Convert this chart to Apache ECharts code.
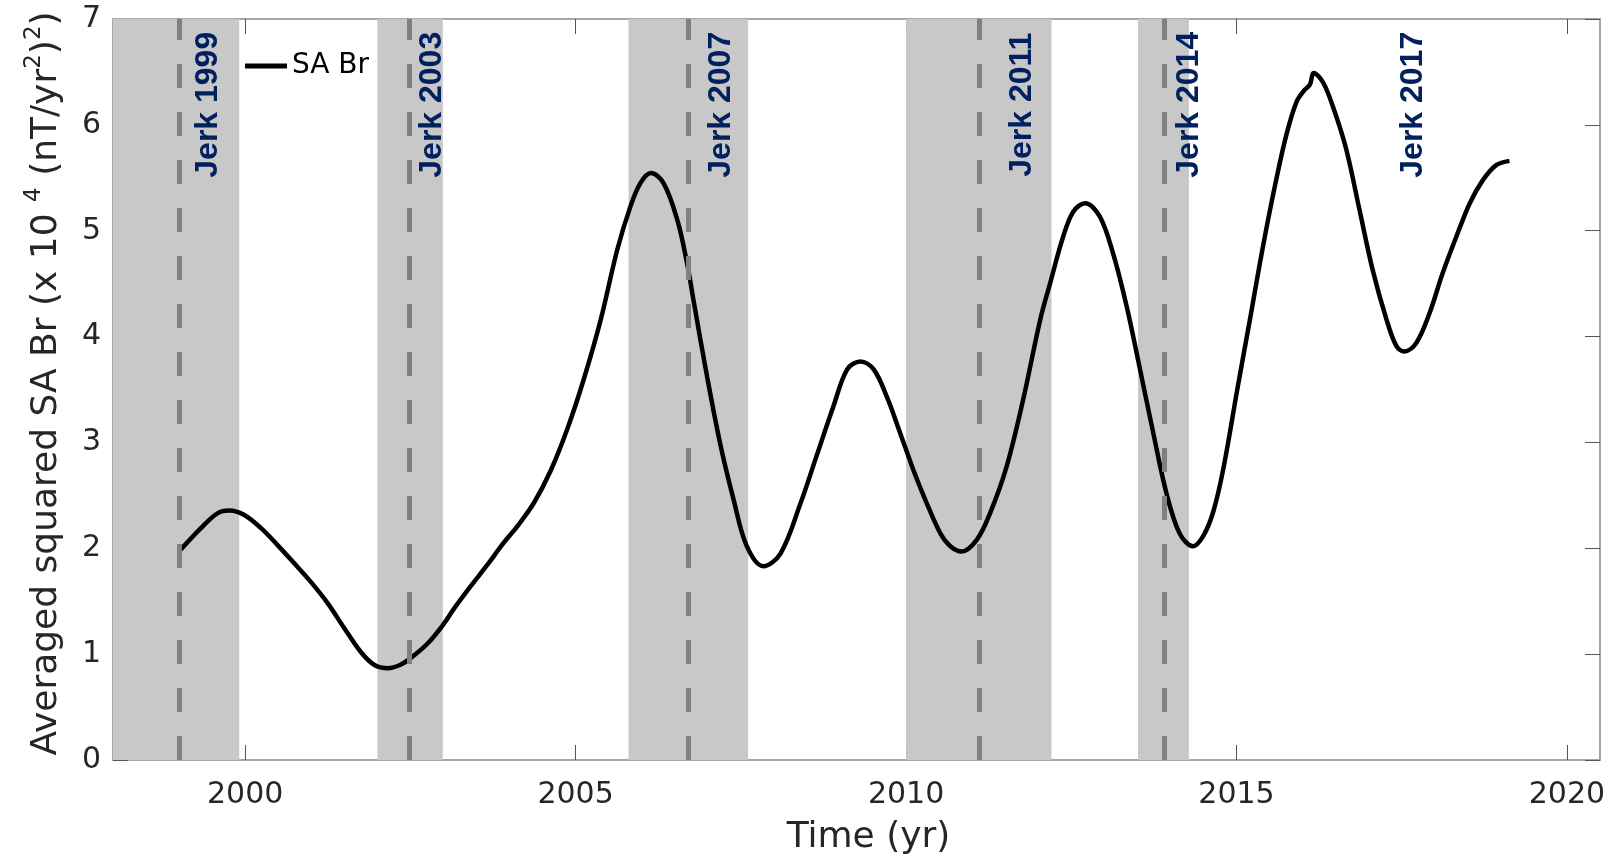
<!DOCTYPE html>
<html><head><meta charset="utf-8">
<script src="https://cdn.jsdelivr.net/npm/echarts@6/dist/echarts.min.js"></script>
<style>html,body{margin:0;padding:0;background:#fff}#c{width:1624px;height:865px}</style>
</head><body><div id="c"></div>
<script>
// ---- data ----
const years = [1999.0, 1999.33, 1999.58, 1999.76, 1999.98, 2000.24, 2000.49, 2000.74, 2000.99, 2001.25,
  2001.50, 2001.75, 2001.95, 2002.16, 2002.35, 2002.5, 2002.76, 2003.01, 2003.16, 2003.41,
  2003.66, 2003.91, 2004.12, 2004.37, 2004.62, 2004.87, 2005.12, 2005.38, 2005.63, 2005.83,
  2005.98, 2006.14, 2006.33, 2006.54, 2006.69, 2006.79, 2006.99, 2007.19, 2007.39, 2007.59,
  2007.84, 2008.10, 2008.40, 2008.65, 2008.90, 2009.11, 2009.31, 2009.51, 2009.71, 2009.91,
  2010.11, 2010.31, 2010.52, 2010.67, 2010.84, 2011.07, 2011.27, 2011.52, 2011.77, 2012.03,
  2012.18, 2012.38, 2012.53, 2012.71, 2012.93, 2013.13, 2013.34, 2013.54, 2013.74, 2013.94,
  2014.14, 2014.34, 2014.5, 2014.65, 2014.8, 2015.02, 2015.20, 2015.40, 2015.60, 2015.76,
  2015.91, 2016.03, 2016.11, 2016.17, 2016.31, 2016.46, 2016.66, 2016.86, 2017.06, 2017.27,
  2017.42, 2017.54, 2017.72, 2017.92, 2018.12, 2018.33, 2018.53, 2018.73, 2018.93, 2019.13];
const saBr = [1.97, 2.19, 2.33, 2.356, 2.316, 2.19, 2.03, 1.86, 1.685, 1.48,
  1.245, 1.02, 0.90, 0.867, 0.90, 0.96, 1.10, 1.29, 1.43, 1.64,
  1.84, 2.05, 2.21, 2.43, 2.73, 3.12, 3.59, 4.16, 4.82, 5.23,
  5.45, 5.545, 5.45, 5.10, 4.68, 4.32, 3.62, 2.98, 2.46, 2.02,
  1.83, 1.95, 2.42, 2.88, 3.34, 3.69, 3.765, 3.69, 3.43, 3.09,
  2.74, 2.43, 2.14, 2.02, 1.97, 2.08, 2.33, 2.77, 3.40, 4.16,
  4.505, 4.95, 5.18, 5.26, 5.135, 4.79, 4.28, 3.69, 3.09, 2.52,
  2.14, 2.02, 2.12, 2.35, 2.75, 3.53, 4.15, 4.85, 5.48, 5.92,
  6.22, 6.33, 6.38, 6.49, 6.40, 6.17, 5.77, 5.20, 4.63, 4.16,
  3.91, 3.86, 3.94, 4.22, 4.60, 4.95, 5.26, 5.48, 5.62, 5.66];
const xTicks = [2000, 2005, 2010, 2015, 2020];
const bandStart = [1998.0, 2002.0, 2005.8, 2010.0, 2013.51];
const bandEnd   = [1999.91, 2002.99, 2007.61, 2012.2, 2014.28];
const jerkDash  = [1999.0, 2002.49, 2006.7, 2011.1, 2013.9];
const jerkNames = ['Jerk 1999', 'Jerk 2003', 'Jerk 2007', 'Jerk 2011', 'Jerk 2014', 'Jerk 2017'];
const jerkLabelYear = [1999.44, 2002.83, 2007.2, 2011.76, 2014.28, 2017.67];
const jerkLabelLevel = 6.19;
const seriesName = 'SA Br';

// ---- chart ----
const FONT = 'DejaVu Sans';
const axisLineStyle = {color: '#a6a6a6', width: 2};
const tickStyle = {color: '#555555', width: 1};
const chart = echarts.init(document.getElementById('c'), null, {renderer: 'canvas'});
chart.setOption({
  animation: false,
  backgroundColor: '#ffffff',
  textStyle: {fontFamily: FONT},
  grid: {left: 113, right: 24, top: 19, bottom: 105, containLabel: false},
  legend: {
    data: [seriesName], left: 240, top: 47, icon: 'rect', itemWidth: 42, itemHeight: 5,
    textStyle: {fontSize: 28, color: '#000', fontFamily: FONT}, selectedMode: false
  },
  xAxis: [{
    type: 'value', min: 1998, max: 2020.5, position: 'bottom',
    axisLine: {show: true, onZero: false, lineStyle: axisLineStyle},
    axisTick: {show: true, inside: true, length: 15, customValues: xTicks, lineStyle: tickStyle},
    axisLabel: {customValues: xTicks, formatter: v => String(v), fontSize: 30, color: '#262626', margin: 20, fontFamily: FONT},
    splitLine: {show: false},
    name: 'Time (yr)', nameLocation: 'middle', nameGap: 60,
    nameTextStyle: {fontSize: 36, color: '#262626', fontFamily: FONT, padding: [0, 0, 0, 24]}
  }, {
    type: 'value', min: 1998, max: 2020.5, position: 'top',
    axisLine: {show: true, onZero: false, lineStyle: axisLineStyle},
    axisTick: {show: true, inside: true, length: 15, customValues: xTicks, lineStyle: tickStyle},
    axisLabel: {show: false}, splitLine: {show: false}
  }],
  yAxis: [{
    type: 'value', min: 0, max: 7, interval: 1, position: 'left',
    axisLine: {show: true, onZero: false, lineStyle: axisLineStyle},
    axisTick: {show: true, inside: true, length: 15, lineStyle: tickStyle},
    axisLabel: {fontSize: 30, color: '#262626', margin: 12, fontFamily: FONT},
    splitLine: {show: false},
    name: 'Averaged squared SA Br (x 10 {s|4} (nT/yr{s|2}){s|2})',
    nameLocation: 'middle', nameGap: 42,
    nameTextStyle: {
      fontSize: 36, color: '#262626', fontFamily: FONT, lineHeight: 48, padding: [0, 0, 0, 12],
      rich: {s: {fontSize: 23, verticalAlign: 'top', color: '#262626', fontFamily: FONT}}
    }
  }, {
    type: 'value', min: 0, max: 7, interval: 1, position: 'right',
    axisLine: {show: true, onZero: false, lineStyle: axisLineStyle},
    axisTick: {show: true, inside: true, length: 15, lineStyle: tickStyle},
    axisLabel: {show: false}, splitLine: {show: false}
  }],
  series: [{
    name: 'bands', type: 'line', data: [], z: 1, silent: true,
    markArea: {
      silent: true, itemStyle: {color: '#c8c8c8', opacity: 1}, label: {show: false},
      data: bandStart.map((s, i) => [{xAxis: s}, {xAxis: bandEnd[i]}])
    }
  }, {
    name: seriesName, type: 'line', z: 2, showSymbol: false, smooth: 0.35,
    lineStyle: {color: '#000', width: 4.5}, itemStyle: {color: '#000'},
    data: years.map((y, i) => [y, saBr[i]])
  }, {
    name: 'dashes', type: 'line', data: [], z: 3, silent: true,
    markLine: {
      silent: true, symbol: ['none', 'none'], label: {show: false},
      lineStyle: {color: '#808080', width: 5, type: [24, 24], cap: 'butt'},
      emphasis: {disabled: true},
      data: jerkDash.map(x => [{coord: [x, 0]}, {coord: [x, 7]}])
    }
  }, {
    name: 'jerks', type: 'scatter', z: 4, silent: true, symbolSize: 1,
    itemStyle: {color: 'rgba(0,0,0,0)'},
    label: {
      show: true, position: 'inside', rotate: 90, opacity: 1,
      formatter: p => p.data[2], textBorderWidth: 0,
      fontFamily: 'Liberation Sans', fontWeight: 'bold', fontSize: 32, color: '#002060'
    },
    data: jerkNames.map((n, i) => [jerkLabelYear[i], jerkLabelLevel, n])
  }]
});
</script></body></html>
